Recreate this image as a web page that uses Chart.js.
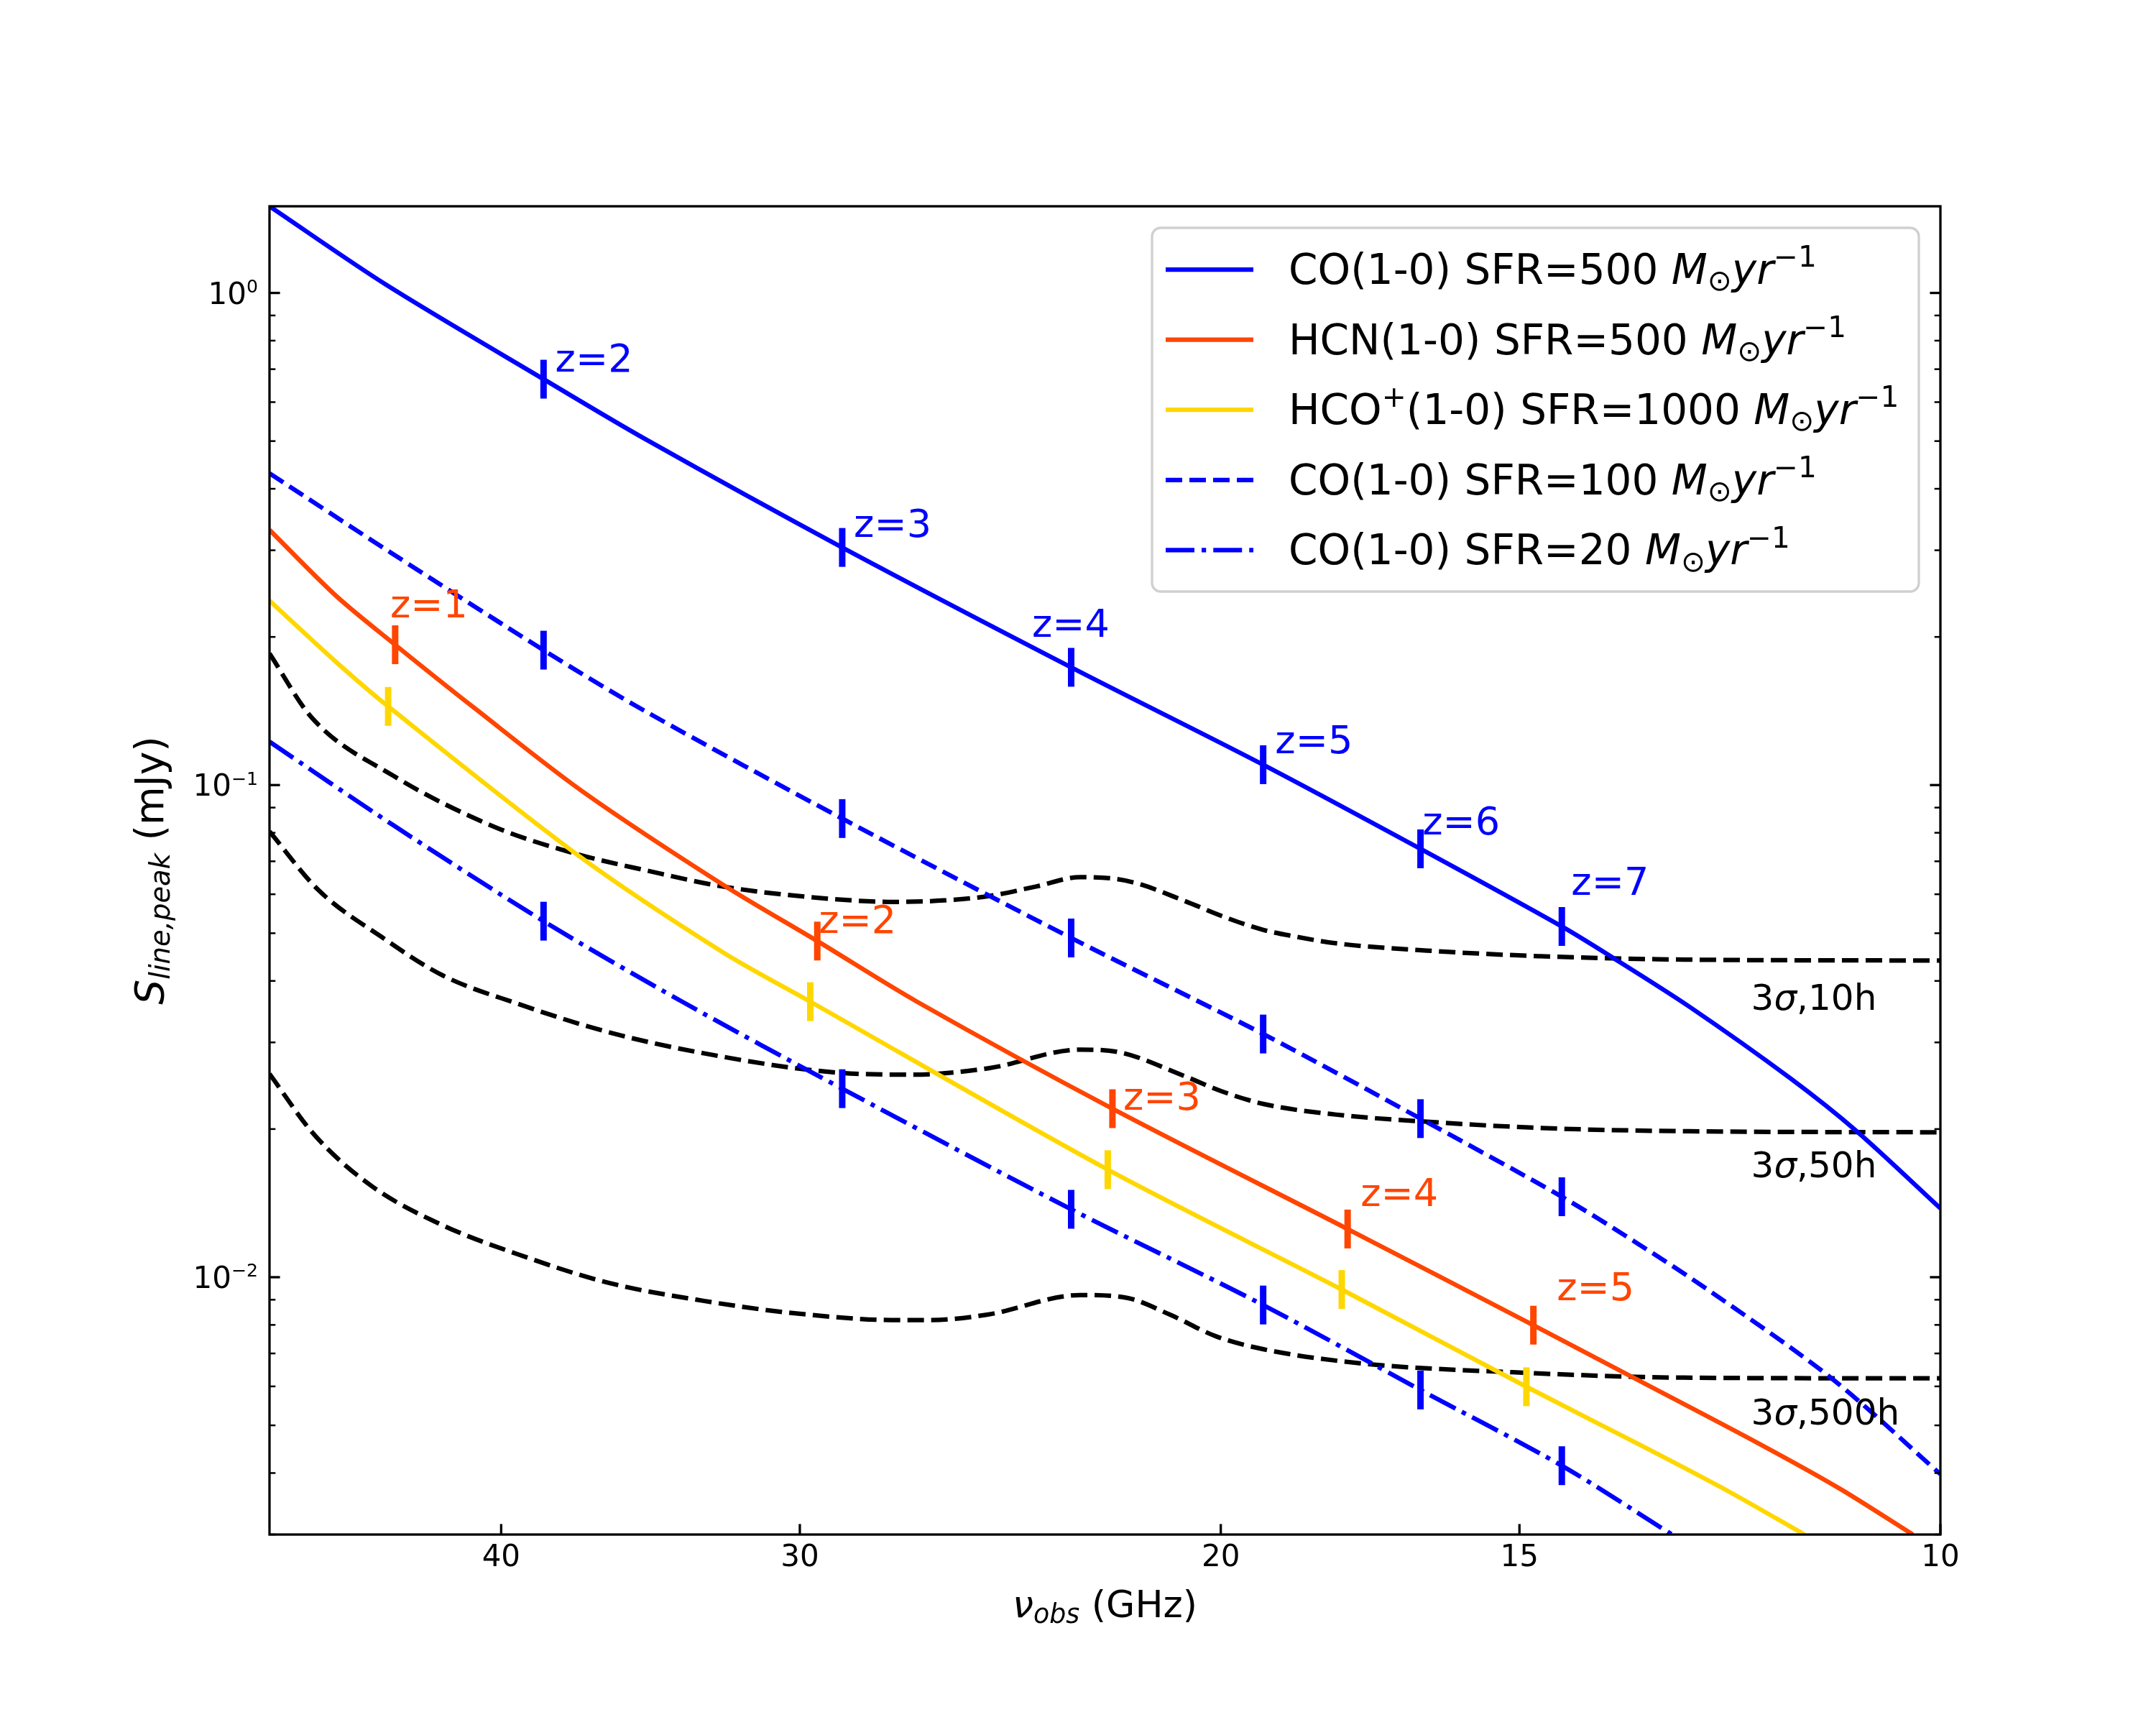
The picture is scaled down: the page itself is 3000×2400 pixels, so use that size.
<!DOCTYPE html>
<html>
<head>
<meta charset="utf-8">
<script src="https://cdn.jsdelivr.net/npm/chart.js@4.4.1/dist/chart.umd.min.js"></script>
<style>
  body { margin: 0; background: #ffffff; }
  #plot { display: block; }
</style>
</head>
<body>
<canvas id="plot" width="3000" height="2400" style="width:3000px;height:2400px"></canvas>
<script>

// CO(1-0), SFR=500 (solid blue)
var co500_nu = [50, 44.7, 38.4, 34.8, 28.8, 23.1, 19.2, 16.5, 14.4, 13.7, 12.74, 11.56, 10.84, 10];
var co500_s = [1.50, 1.04, 0.668, 0.504, 0.304, 0.1735, 0.110, 0.0742, 0.0516, 0.0445, 0.0355, 0.0254, 0.0198, 0.0138];

// HCN(1-0), SFR=500 (orange red)
var hcn_nu = [50, 46.9, 44.3, 41.0, 37.0, 32.3, 29.5, 26.8, 22.2, 17.7, 14.8, 13.44, 11.93, 11.02, 10.27];
var hcn_s = [0.33, 0.2425, 0.1928, 0.1428, 0.0972, 0.0627, 0.0482, 0.0363, 0.0220, 0.01253, 0.00799, 0.00625, 0.00461, 0.00372, 0.003];

// HCO+(1-0), SFR=1000 (gold)
var hco_nu = [50, 46.9, 44.6, 37.1, 32.3, 29.7, 22.3, 17.8, 14.9, 13.27, 12.25, 11.40];
var hco_s = [0.237, 0.178, 0.1445, 0.0717, 0.0457, 0.0363, 0.01654, 0.00944, 0.00599, 0.00449, 0.00366, 0.003];

// CO(1-0), SFR=100 (dashed blue)
var co100_nu = [50, 44.5, 38.4, 34.8, 28.8, 23.1, 19.2, 16.5, 14.4, 13.42, 12.45, 11.1, 10];
var co100_s = [0.43, 0.297, 0.188, 0.1411, 0.0855, 0.0489, 0.0312, 0.0210, 0.01457, 0.0118, 0.00928, 0.00622, 0.00398];

// CO(1-0), SFR=20 (dash-dot blue)
var co20_nu = [50, 44.4, 38.4, 33.6, 28.8, 23.1, 19.2, 16.5, 14.4, 12.95];
var co20_s = [0.1225, 0.083, 0.0529, 0.0363, 0.02416, 0.01374, 0.00878, 0.0059, 0.00414, 0.003];

// 3 sigma sensitivity curves (black dashed)
var sens10_nu = [50, 48.0, 44.4, 40.2, 37.1, 34.8, 32.3, 29.7, 27.4, 26.1, 25.0, 23.9, 22.9, 22.1, 21.6, 20.7, 19.9, 19.2, 18.65, 17.9, 16.4, 14.7, 12.8, 10];
var sens10_s = [0.185, 0.137, 0.1046, 0.082, 0.0722, 0.0671, 0.0622, 0.0592, 0.0579, 0.0583, 0.0595, 0.0622, 0.0650, 0.0644, 0.0628, 0.0581, 0.0538, 0.0508, 0.0493, 0.0477, 0.0461, 0.0449, 0.0442, 0.0440];
var sens50_nu = [50, 47.7, 44.9, 42.3, 39.4, 36.1, 32.9, 29.1, 26.9, 25.0, 22.9, 22.1, 20.7, 20.0, 19.2, 17.9, 16.4, 14.7, 12.8, 10];
var sens50_s = [0.0805, 0.0612, 0.0492, 0.041, 0.036, 0.0315, 0.0285, 0.0261, 0.0258, 0.0266, 0.0290, 0.0287, 0.0256, 0.0239, 0.0225, 0.0214, 0.0207, 0.0201, 0.0198, 0.0197];
var sens500_nu = [50, 47.9, 45.3, 42.3, 39.4, 36.1, 32.9, 30.1, 27.3, 26.5, 25.05, 22.9, 21.9, 21.0, 20.1, 19.2, 17.4, 15.1, 12.8, 10];
var sens500_s = [0.0259, 0.0195, 0.0153, 0.01274, 0.01115, 0.00975, 0.00895, 0.00844, 0.00818, 0.00818, 0.00839, 0.0092, 0.00908, 0.00839, 0.00759, 0.00714, 0.00667, 0.00641, 0.00625, 0.00623];

// redshift markers
var co_mark_nu = [38.4, 28.8, 23.1, 19.2, 16.5, 14.4];
var co500_mark_s = [0.668, 0.304, 0.1735, 0.110, 0.0742, 0.0516];
var co100_mark_s = [0.188, 0.0855, 0.0489, 0.0312, 0.0210, 0.01457];
var co20_mark_s = [0.0529, 0.02416, 0.01374, 0.00878, 0.0059, 0.00414];
var hcn_mark_nu = [44.3, 29.5, 22.2, 17.7, 14.8];
var hcn_mark_s = [0.1928, 0.0482, 0.0220, 0.01253, 0.00799];
var hco_mark_nu = [44.6, 29.7, 22.3, 17.8, 14.9];
var hco_mark_s = [0.1445, 0.0363, 0.01654, 0.00944, 0.00599];

// redshift labels (left / baseline anchor in data units)
var co_label_text = ['z=2', 'z=3', 'z=4', 'z=5', 'z=6', 'z=7'];
var co_label_nu = [37.97, 28.48, 23.99, 18.98, 16.47, 14.27];
var co_label_s = [0.693, 0.319, 0.200, 0.116, 0.0794, 0.0598];
var hcn_label_text = ['z=1', 'z=2', 'z=3', 'z=4', 'z=5'];
var hcn_label_nu = [44.51, 29.46, 21.97, 17.48, 14.47];
var hcn_label_s = [0.2188, 0.0500, 0.0219, 0.01394, 0.00898];

// sensitivity labels
var sens_label_text = ['10h', '50h', '500h'];
var sens_label_nu = 12.0;
var sens_label_s = [0.0349, 0.01595, 0.00502];

// axis ticks
var x_tick_vals = [10, 15, 20, 30, 40];
var y_major_vals = [0.01, 0.1, 1];
var y_major_exp = ['\u22122', '\u22121', '0'];
var y_minor_vals = [0.003, 0.004, 0.005, 0.006, 0.007, 0.008, 0.009,
  0.02, 0.03, 0.04, 0.05, 0.06, 0.07, 0.08, 0.09,
  0.2, 0.3, 0.4, 0.5, 0.6, 0.7, 0.8, 0.9];

var chart_font = '"DejaVu Sans", "Liberation Sans", sans-serif';
var c_blue = '#0000ff';
var c_red = '#ff4500';
var c_gold = '#ffd700';
var dash = [23, 10];
var dash_dot = [40, 10, 6.25, 10];

function to_points(nu, s) {
  var pts = [];
  for (var i = 0; i < nu.length; i++) {
    pts.push({x: nu[i], y: s[i]});
  }
  return pts;
}

// smooth = true uses a plain spline, otherwise monotone (keeps the black plateaus flat)
function make_curve(nu, s, color, line_dash, order, smooth) {
  return {
    data: to_points(nu, s),
    showLine: true,
    borderColor: color,
    borderWidth: 6.25,
    borderDash: line_dash,
    borderCapStyle: 'butt',
    pointRadius: 0,
    pointHitRadius: 0,
    fill: false,
    tension: smooth ? 0.3 : 0,
    cubicInterpolationMode: smooth ? 'default' : 'monotone',
    clip: 0,
    order: order
  };
}

function make_marks(nu, s, color) {
  return {
    data: to_points(nu, s),
    showLine: false,
    pointStyle: 'line',
    pointRotation: 90,
    pointRadius: 27,
    pointBorderWidth: 9,
    pointBorderColor: color,
    pointBackgroundColor: color,
    pointHitRadius: 0,
    clip: false,
    order: 0
  };
}

var datasets = [
  make_marks(co_mark_nu, co500_mark_s, c_blue),
  make_marks(co_mark_nu, co100_mark_s, c_blue),
  make_marks(co_mark_nu, co20_mark_s, c_blue),
  make_marks(hcn_mark_nu, hcn_mark_s, c_red),
  make_marks(hco_mark_nu, hco_mark_s, c_gold),
  make_curve(co500_nu, co500_s, c_blue, [], 1, true),
  make_curve(hcn_nu, hcn_s, c_red, [], 1, true),
  make_curve(hco_nu, hco_s, c_gold, [], 1, true),
  make_curve(co100_nu, co100_s, c_blue, dash, 1, true),
  make_curve(co20_nu, co20_s, c_blue, dash_dot, 1, true),
  make_curve(sens10_nu, sens10_s, '#000000', dash, 2, false),
  make_curve(sens50_nu, sens50_s, '#000000', dash, 2, false),
  make_curve(sens500_nu, sens500_s, '#000000', dash, 2, false)
];

// text with italic / sub / superscript pieces (mathtext look)
function part_size(p, size) {
  if (p.sc) return size * p.sc;
  return (p.sub || p.sup) ? size * 0.7 : size;
}

function part_font(p, size) {
  return (p.it ? 'italic ' : '') + part_size(p, size) + 'px ' + chart_font;
}

function rich_width(ctx, parts, size) {
  var w = 0;
  for (var i = 0; i < parts.length; i++) {
    ctx.font = part_font(parts[i], size);
    w += ctx.measureText(parts[i].t).width;
  }
  return w;
}

function draw_rich(ctx, x, y, parts, size, align) {
  var cx = x;
  if (align === 'center') cx = x - rich_width(ctx, parts, size) / 2;
  if (align === 'right') cx = x - rich_width(ctx, parts, size);
  ctx.textAlign = 'left';
  ctx.textBaseline = 'alphabetic';
  for (var i = 0; i < parts.length; i++) {
    var p = parts[i];
    var dy = 0;
    if (p.sub) dy = size * 0.16;
    if (p.sup) dy = -size * (p.dy ? p.dy : 0.41);
    ctx.font = part_font(p, size);
    ctx.fillText(p.t, cx, y + dy);
    cx += ctx.measureText(p.t).width;
  }
}

function unit_parts() {
  return [{t: 'M', it: true}, {t: '\u2299', sub: true}, {t: 'yr', it: true}, {t: '\u22121', sup: true}];
}

var legend_rows = [
  {parts: [{t: 'CO(1-0) SFR=500 '}].concat(unit_parts()), color: c_blue, dash: []},
  {parts: [{t: 'HCN(1-0) SFR=500 '}].concat(unit_parts()), color: c_red, dash: []},
  {parts: [{t: 'HCO'}, {t: '+', sup: true}, {t: '(1-0) SFR=1000 '}].concat(unit_parts()), color: c_gold, dash: []},
  {parts: [{t: 'CO(1-0) SFR=100 '}].concat(unit_parts()), color: c_blue, dash: dash},
  {parts: [{t: 'CO(1-0) SFR=20 '}].concat(unit_parts()), color: c_blue, dash: dash_dot}
];

function seg(ctx, x1, y1, x2, y2) {
  ctx.beginPath();
  ctx.moveTo(x1, y1);
  ctx.lineTo(x2, y2);
  ctx.stroke();
}

var figure_extras = {
  id: 'figure_extras',
  afterDatasetsDraw: function(chart) {
    var ctx = chart.ctx;
    var xs = chart.scales.x;
    var ys = chart.scales.y;
    var a = chart.chartArea;
    var i;
    ctx.save();

    // redshift labels
    ctx.fillStyle = c_blue;
    for (i = 0; i < co_label_text.length; i++) {
      draw_rich(ctx, xs.getPixelForValue(co_label_nu[i]), ys.getPixelForValue(co_label_s[i]), [{t: co_label_text[i]}], 54, 'left');
    }
    ctx.fillStyle = c_red;
    for (i = 0; i < hcn_label_text.length; i++) {
      draw_rich(ctx, xs.getPixelForValue(hcn_label_nu[i]), ys.getPixelForValue(hcn_label_s[i]), [{t: hcn_label_text[i]}], 54, 'left');
    }
    // sensitivity labels
    ctx.fillStyle = '#000000';
    for (i = 0; i < sens_label_text.length; i++) {
      draw_rich(ctx, xs.getPixelForValue(sens_label_nu), ys.getPixelForValue(sens_label_s[i]),
        [{t: '3'}, {t: '\u03c3', it: true}, {t: ',' + sens_label_text[i]}], 50, 'left');
    }

    // frame and inward ticks
    ctx.strokeStyle = '#000000';
    ctx.setLineDash([]);
    ctx.lineCap = 'butt';
    ctx.lineWidth = 3.3;
    ctx.strokeRect(a.left, a.top, a.right - a.left, a.bottom - a.top);
    for (i = 0; i < x_tick_vals.length; i++) {
      var px = xs.getPixelForValue(x_tick_vals[i]);
      seg(ctx, px, a.bottom, px, a.bottom - 14.6);
    }
    for (i = 0; i < y_major_vals.length; i++) {
      var py = ys.getPixelForValue(y_major_vals[i]);
      seg(ctx, a.left, py, a.left + 14.6, py);
      seg(ctx, a.right, py, a.right - 14.6, py);
      // y tick label, 10 with a raised exponent
      draw_rich(ctx, a.left - 16, py + 15,
        [{t: '10'}, {t: y_major_exp[i], sup: true, sc: 0.6, dy: 0.37}], 42, 'right');
    }
    ctx.lineWidth = 2.5;
    for (i = 0; i < y_minor_vals.length; i++) {
      var qy = ys.getPixelForValue(y_minor_vals[i]);
      seg(ctx, a.left, qy, a.left + 8.3, qy);
      seg(ctx, a.right, qy, a.right - 8.3, qy);
    }

    // legend box, upper right
    var lw = 1067;
    var lh = 506;
    var lx0 = a.right - 30 - lw;
    var ly0 = a.top + 30;
    ctx.beginPath();
    ctx.roundRect(lx0, ly0, lw, lh, 12);
    ctx.fillStyle = 'rgba(255,255,255,0.8)';
    ctx.fill();
    ctx.strokeStyle = '#d0d0d0';
    ctx.lineWidth = 3.3;
    ctx.stroke();
    for (i = 0; i < legend_rows.length; i++) {
      var row_y = ly0 + 58 + i * 97.6;
      ctx.strokeStyle = legend_rows[i].color;
      ctx.lineWidth = 6.25;
      ctx.setLineDash(legend_rows[i].dash);
      seg(ctx, lx0 + 19, row_y, lx0 + 141, row_y);
      ctx.setLineDash([]);
      ctx.fillStyle = '#000000';
      draw_rich(ctx, lx0 + 190, row_y + 20, legend_rows[i].parts, 58, 'left');
    }

    // axis titles
    ctx.fillStyle = '#000000';
    draw_rich(ctx, (a.left + a.right) / 2, 2250,
      [{t: '\u03bd', it: true}, {t: 'obs', it: true, sub: true}, {t: ' (GHz)'}], 52, 'center');
    ctx.translate(227, (a.top + a.bottom) / 2);
    ctx.rotate(-Math.PI / 2);
    draw_rich(ctx, 0, 0,
      [{t: 'S', it: true}, {t: 'line,peak', it: true, sub: true}, {t: ' (mJy)'}], 55, 'center');
    ctx.restore();
  }
};

var plot_chart = new Chart(document.getElementById('plot'), {
  type: 'scatter',
  data: {datasets: datasets},
  options: {
    responsive: false,
    devicePixelRatio: 1,
    animation: false,
    events: [],
    layout: {padding: {top: 287, right: 300, left: 0, bottom: 0}},
    plugins: {
      legend: {display: false},
      tooltip: {enabled: false}
    },
    scales: {
      x: {
        type: 'logarithmic',
        min: 10,
        max: 50,
        reverse: true,
        afterBuildTicks: function(scale) {
          scale.ticks = x_tick_vals.map(function(v) { return {value: v}; });
        },
        afterFit: function(scale) { scale.height = 265; },
        ticks: {
          autoSkip: false,
          maxRotation: 0,
          padding: 8,
          color: '#000000',
          font: {family: chart_font, size: 42},
          callback: function(v) { return String(v); }
        },
        grid: {display: false, drawTicks: false},
        border: {display: false}
      },
      y: {
        type: 'logarithmic',
        min: 0.003,
        max: 1.5,
        afterBuildTicks: function(scale) {
          scale.ticks = y_major_vals.map(function(v) { return {value: v}; });
        },
        afterFit: function(scale) { scale.width = 375; },
        ticks: {display: false},
        grid: {display: false, drawTicks: false},
        border: {display: false}
      }
    }
  },
  plugins: [figure_extras]
});
</script>
</body>
</html>
